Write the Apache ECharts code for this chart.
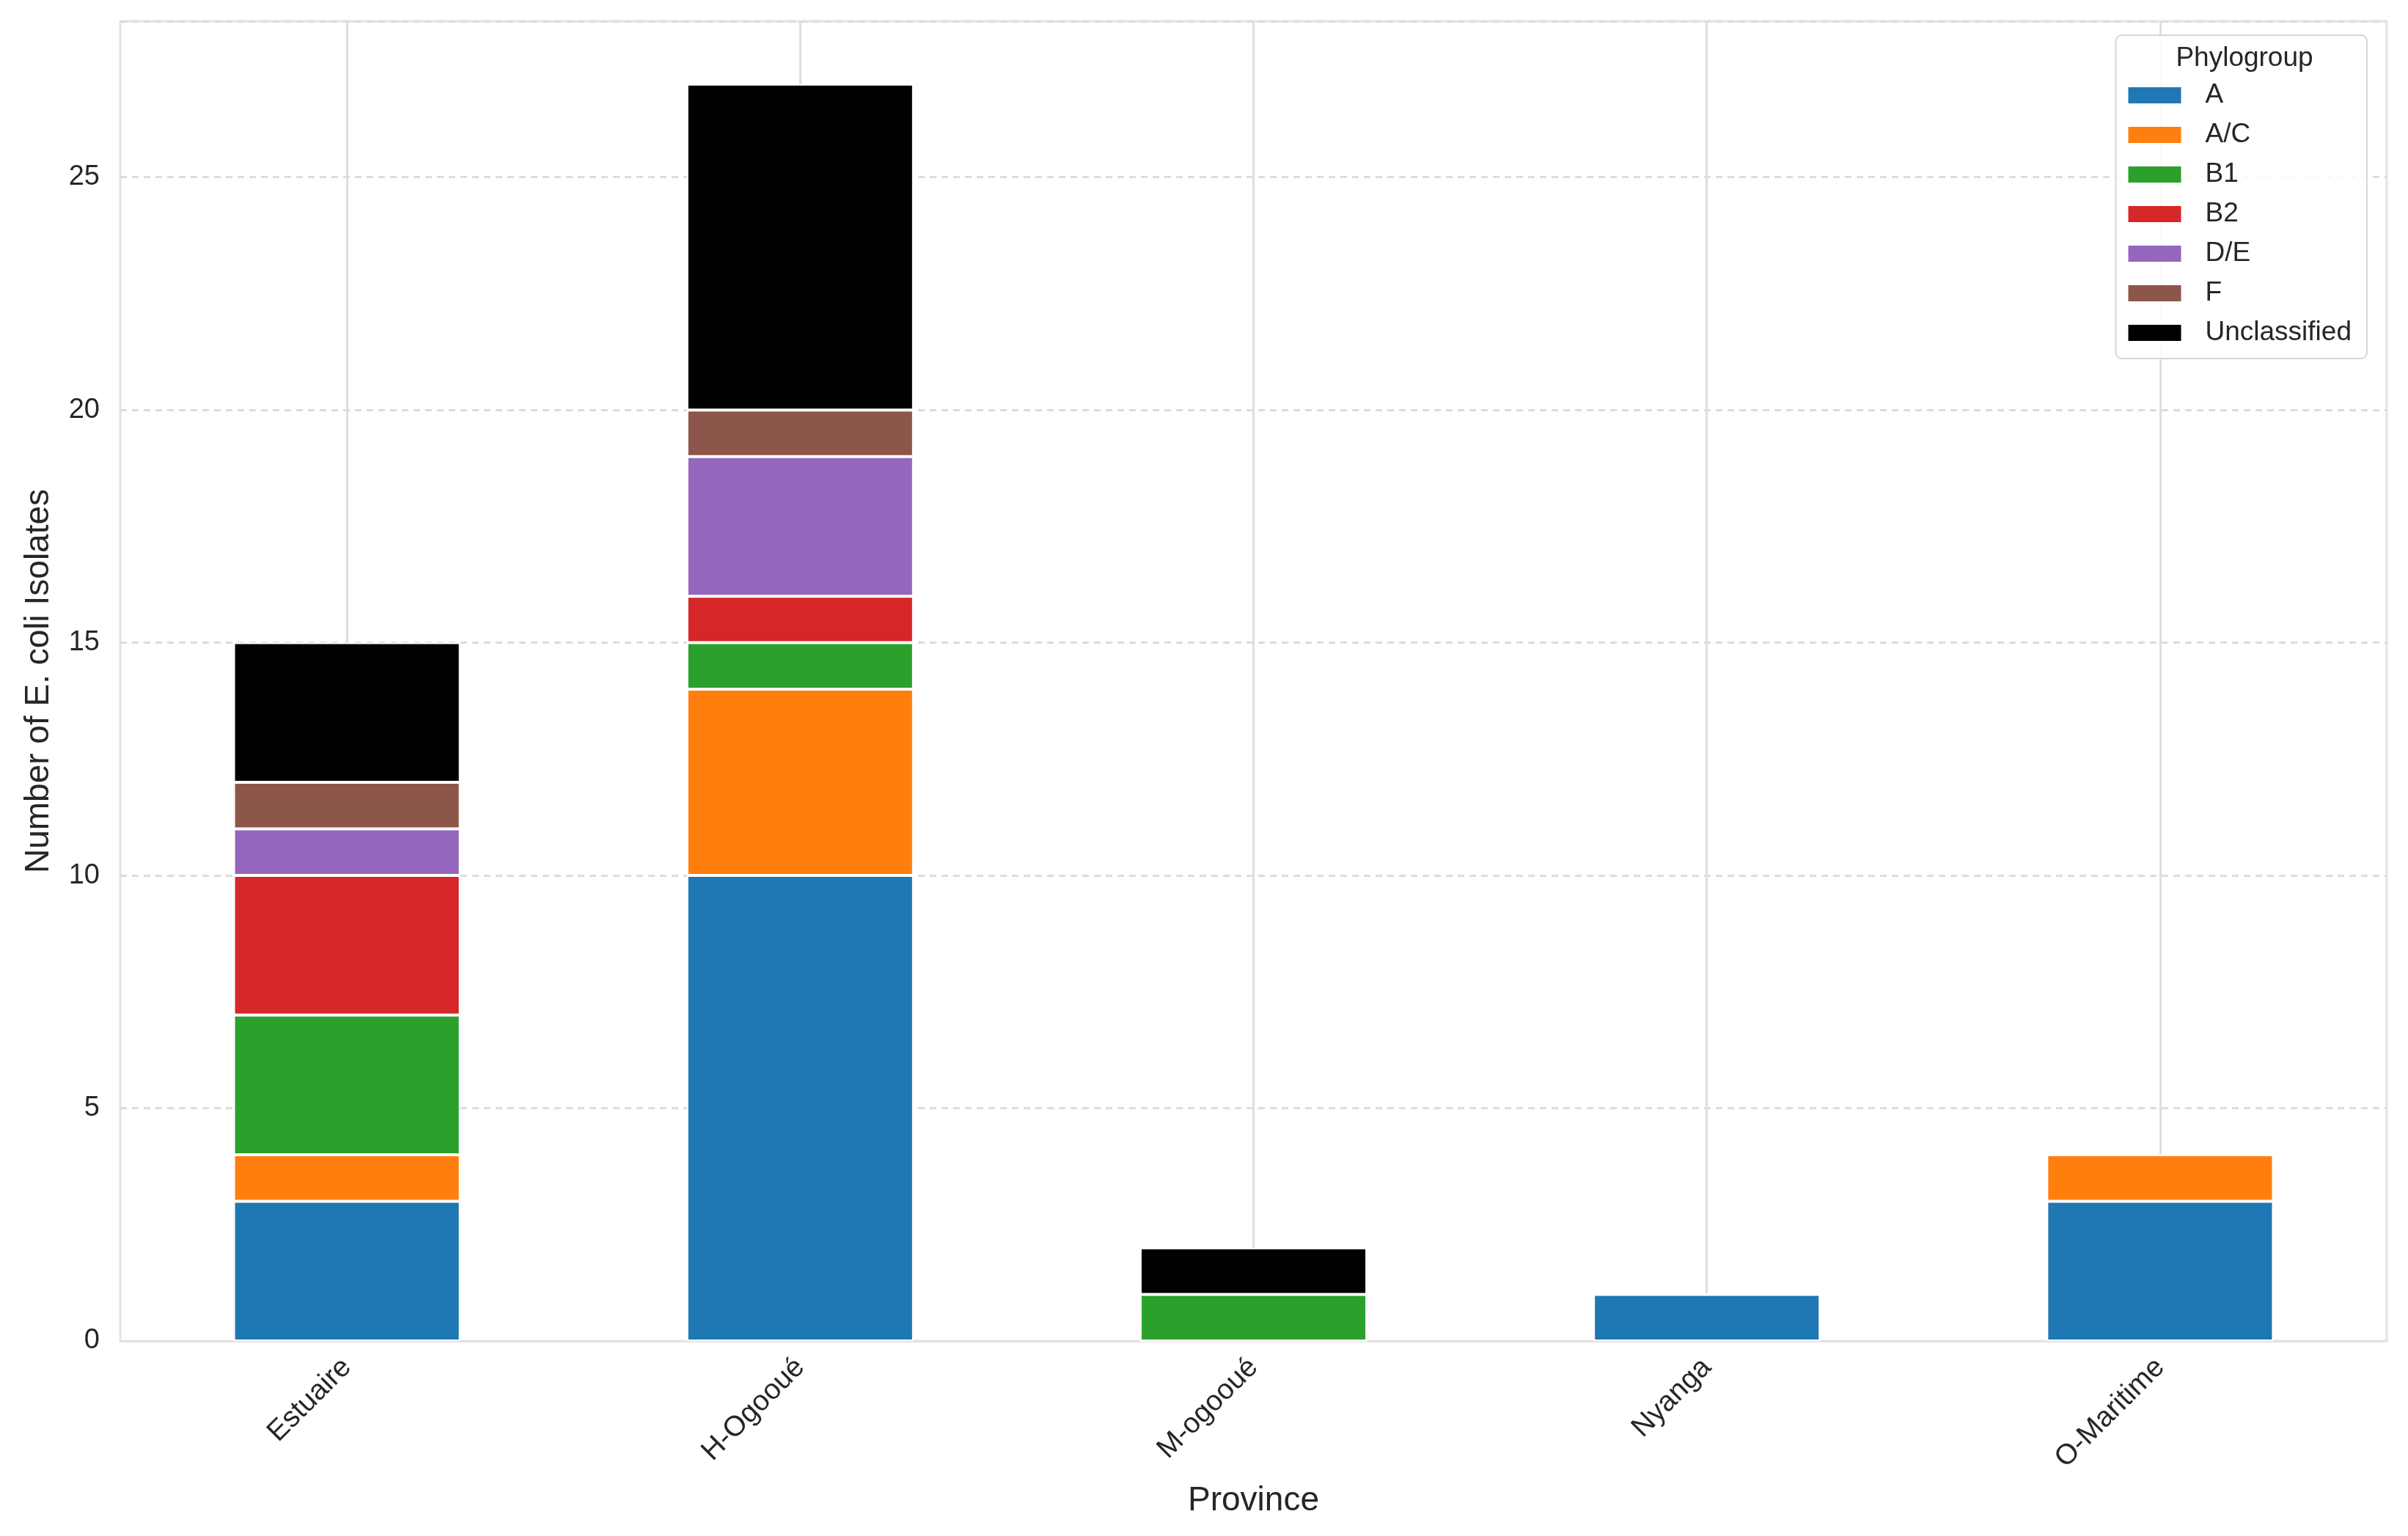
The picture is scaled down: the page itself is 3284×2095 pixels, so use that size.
<!DOCTYPE html>
<html>
<head>
<meta charset="utf-8">
<script src="https://cdn.jsdelivr.net/npm/echarts@6/dist/echarts.min.js"></script>
<style>
  html, body { margin: 0; padding: 0; background: #fff; }
  #main { width: 3284px; height: 2095px; }
</style>
</head>
<body>
<div id="main"></div>
<script>
var provinces = ['Estuaire', 'H-Ogooué', 'M-ogooué', 'Nyanga', 'O-Maritime'];
var groups = ['A', 'A/C', 'B1', 'B2', 'D/E', 'F', 'Unclassified'];
var colors = ['#1f77b4', '#ff7f0e', '#2ca02c', '#d62728', '#9467bd', '#8c564b', '#000000'];

// counts per phylogroup, one value per province
var countA = [3, 10, 0, 1, 3];
var countAC = [1, 4, 0, 0, 1];
var countB1 = [3, 1, 1, 0, 0];
var countB2 = [3, 1, 0, 0, 0];
var countDE = [1, 3, 0, 0, 0];
var countF = [1, 1, 0, 0, 0];
var countUncl = [3, 7, 1, 0, 0];
var counts = [countA, countAC, countB1, countB2, countDE, countF, countUncl];

var yTicks = [0, 5, 10, 15, 20, 25];

var font = '"Liberation Sans", Arial, sans-serif';
var textColor = '#262626';

var myChart = echarts.init(document.getElementById('main'));

var series = groups.map(function (g, i) {
  return {
    name: g,
    type: 'bar',
    stack: 'total',
    barWidth: '50%',
    data: counts[i],
    itemStyle: { color: colors[i], borderColor: '#ffffff', borderWidth: 2 },
    emphasis: { disabled: true }
  };
});

myChart.setOption({
  animation: false,
  backgroundColor: '#ffffff',
  textStyle: { fontFamily: font, color: textColor },
  title: {
    text: 'Phylogroup',
    left: 3056,
    top: 56,
    textAlign: 'center',
    textStyle: { fontFamily: font, fontSize: 37, fontWeight: 'normal', color: textColor },
    z: 10
  },
  legend: {
    data: groups,
    orient: 'vertical',
    right: 56,
    top: 48,
    padding: [62, 21, 15, 17],
    itemWidth: 72,
    itemHeight: 22,
    itemGap: 14,
    icon: 'rect',
    borderColor: '#d6d6d6',
    borderWidth: 2,
    borderRadius: 8,
    backgroundColor: 'rgba(255,255,255,0.85)',
    textStyle: { fontFamily: font, fontSize: 37, color: textColor, lineHeight: 40, padding: [0, 0, 0, 28] },
    itemStyle: { borderWidth: 0 },
    selectedMode: false
  },
  grid: {
    left: 164,
    right: 29,
    top: 29,
    bottom: 266,
    show: true,
    borderColor: '#e3e3e3',
    borderWidth: 3,
    containLabel: false
  },
  xAxis: {
    type: 'category',
    data: provinces,
    name: 'Province',
    nameLocation: 'middle',
    nameGap: 195,
    nameTextStyle: { fontFamily: font, fontSize: 46, color: textColor },
    axisLine: { show: true, lineStyle: { color: '#e3e3e3', width: 3 } },
    axisTick: { show: false },
    axisLabel: { rotate: 45, fontSize: 39, color: textColor, margin: 30, fontFamily: font },
    splitLine: { show: true, alignWithLabel: true, lineStyle: { color: '#dedede', width: 3, type: 'solid' } }
  },
  yAxis: {
    type: 'value',
    min: 0,
    max: 28.35,
    interval: 5,
    name: 'Number of E. coli Isolates',
    nameLocation: 'middle',
    nameGap: 88,
    nameTextStyle: { fontFamily: font, fontSize: 46, color: textColor },
    axisLine: { show: false },
    axisTick: { show: false },
    axisLabel: {
      fontSize: 38, color: textColor, margin: 28, fontFamily: font, showMaxLabel: false,
      formatter: function (v) { return yTicks.indexOf(v) >= 0 ? String(v) : ''; }
    },
    splitLine: { show: true, lineStyle: { color: '#dcdcdc', width: 3, type: [9, 7] } }
  },
  series: series
});
</script>
</body>
</html>
